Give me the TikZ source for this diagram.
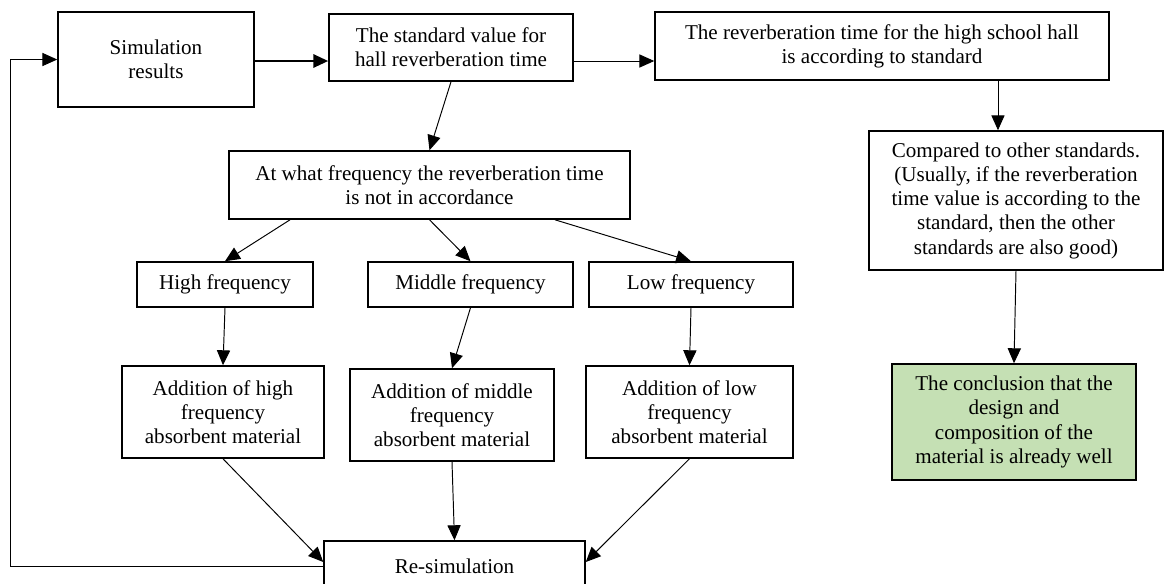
\documentclass[tikz,border=0pt]{standalone}
\usepackage{fontspec}
\setmainfont{Liberation Serif}
\usepackage{tikz}
\usetikzlibrary{arrows.meta, positioning}
\definecolor{concgreen}{HTML}{C5E0B4}

\begin{document}
\begin{tikzpicture}[
    x=0.02cm, y=-0.02cm,
    font=\fontsize{12}{13.8}\selectfont,
    box/.style={rectangle, draw=black, line width=0.9pt, align=center, inner sep=2pt},
    result/.style={box, fill=concgreen},
    arrow/.style={-{Triangle[length=8.5pt, width=7.5pt]}, line width=0.55pt, black}
]
\useasboundingbox (0,0) rectangle (1164,583);

\node[box, minimum width=3.92cm, minimum height=1.90cm] (sim) at (156,59.5) {Simulation\\results};
\node[box, minimum width=4.88cm, minimum height=1.34cm] (std) at (451,47.5) {The standard value for\\hall reverberation time};
\node[box, minimum width=9.08cm, minimum height=1.36cm] (rev) at (882,46) {The reverberation time for the high school hall\\is according to standard};
\node[box, minimum width=8.02cm, minimum height=1.36cm] (what) at (429.5,185) {At what frequency the reverberation time\\is not in accordance};

\node[box, minimum width=3.52cm, minimum height=0.9cm] (high) at (225,284.5) {High frequency};
\node[box, minimum width=4.10cm, minimum height=0.9cm] (mid) at (470.5,284.5) {Middle frequency};
\node[box, minimum width=4.08cm, minimum height=0.9cm] (low) at (691,284.5) {Low frequency};

\node[box, minimum width=4.04cm, minimum height=1.84cm] (addh) at (223,412) {Addition of high\\frequency\\absorbent material};
\node[box, minimum width=4.08cm, minimum height=1.84cm] (addm) at (452,415) {Addition of middle\\frequency\\absorbent material};
\node[box, minimum width=4.14cm, minimum height=1.84cm] (addl) at (689.5,412) {Addition of low\\frequency\\absorbent material};

\node[box, minimum width=5.22cm, minimum height=1.0cm] (resim) at (454.5,566) {Re-simulation};

\node[box, minimum width=5.88cm, minimum height=2.78cm] (cmp) at (1016,200.5) {Compared to other standards.\\(Usually, if the reverberation\\time value is according to the\\standard, then the other\\standards are also good)};
\node[result, minimum width=4.88cm, minimum height=2.32cm] (concl) at (1014,422) {The conclusion that the\\design and\\composition of the\\material is already well};

\coordinate (loop) at (10.5,566);

% top row
\draw[arrow, line width=1.5pt] ([yshift=-0.03cm]sim.east) -- ([yshift=-0.03cm]sim.east -| std.west);
\draw[arrow] ([yshift=-0.27cm]std.east) -- ([yshift=-0.27cm]std.east -| rev.west);
\draw[arrow] (std.south) -- (what.north);

% frequency branches
\draw[arrow] ([xshift=-2.79cm]what.south) -- (high.north);
\draw[arrow] (what.south) -- (mid.north);
\draw[arrow] ([xshift=2.51cm]what.south) -- (low.north);
\draw[arrow] (high.south) -- (addh.north);
\draw[arrow] (mid.south) -- (addm.north);
\draw[arrow] (low.south) -- (addl.north);

% back to simulation
\draw[arrow] (addh.south) -- ([yshift=0.08cm]resim.west);
\draw[arrow] (addm.south) -- (resim.north);
\draw[arrow] (addl.south) -- ([yshift=0.08cm]resim.east);
\draw[arrow] (resim.west) -- (loop) |- (sim.west);

% right column
\draw[arrow] ([xshift=2.32cm]rev.south) -- ([xshift=2.32cm]rev.south |- cmp.north);
\draw[arrow] (cmp.south) -- (concl.north);
\end{tikzpicture}
\end{document}
